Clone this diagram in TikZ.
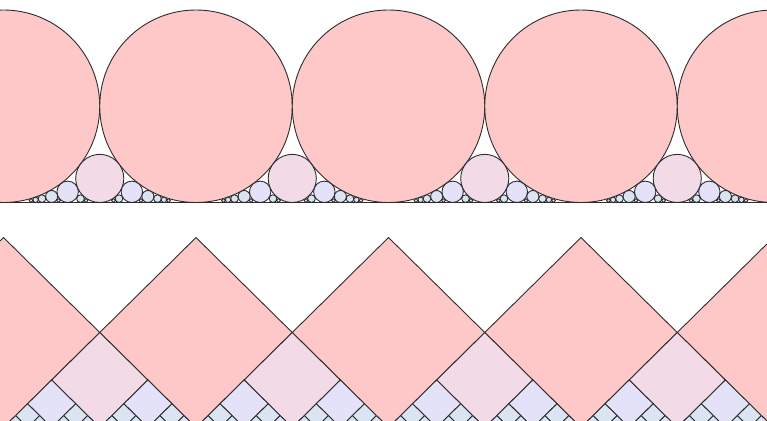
\documentclass[tikz,border=0pt]{standalone}
\definecolor{cA}{RGB}{255,200,200}
\definecolor{cB}{RGB}{242,218,230}
\definecolor{cC}{RGB}{228,226,248}
\definecolor{cD}{RGB}{218,228,242}
\definecolor{edge}{RGB}{45,45,45}
\begin{document}
\begin{tikzpicture}[x=1pt,y=1pt,
  fordline/.style={draw=edge, line width=0.9pt, line join=round}]
\useasboundingbox (0,0) rectangle (767,420);
\clip (0,0) rectangle (767,420);
% ---- Ford circles ----
\begin{scope}[shift={(3.5,217.5)}, x=192.5pt, y=192.5pt]
  \foreach \q in {1,...,7} {
    \ifnum\q=1 \def\fc{cA}\else\ifnum\q=2 \def\fc{cB}\else\ifnum\q=3 \def\fc{cC}\else\def\fc{cD}\fi\fi\fi
    \pgfmathtruncatemacro{\pmax}{4*\q}
    \foreach \p in {0,...,\pmax} {
      \pgfmathtruncatemacro{\g}{gcd(\p,\q)}
      \ifnum\g=1
        \pgfmathsetmacro{\rr}{1/(2*\q*\q)}
        \draw[fordline, fill=\fc] ({\p/\q},\rr) circle[radius=\rr];
      \fi
    }
  }
  \draw[edge, line width=1.1pt] (-0.1,0) -- (4.1,0);
\end{scope}
% ---- Ford squares (diamonds) ----
\begin{scope}[shift={(3.5,-7.5)}, x=192.5pt, y=190pt]
  \foreach \n in {0,...,4} {
    \draw[fordline, fill=cA] (\n,0) -- (\n+0.5,0.5) -- (\n,1) -- (\n-0.5,0.5) -- cycle;
  }
  \foreach \k/\col in {1/cB,2/cC,3/cD,4/cD,5/cD} {
    \pgfmathtruncatemacro{\N}{2^(\k+2)}
    \pgfmathsetmacro{\h}{1/2^(\k+1)}
    \foreach \m in {1,3,...,\N} {
      \pgfmathsetmacro{\xc}{\m/2^\k}
      \draw[fordline, fill=\col] (\xc,0) -- ++(\h,\h) -- ++(-\h,\h) -- ++(-\h,-\h) -- cycle;
    }
  }
\end{scope}
\end{tikzpicture}
\end{document}
